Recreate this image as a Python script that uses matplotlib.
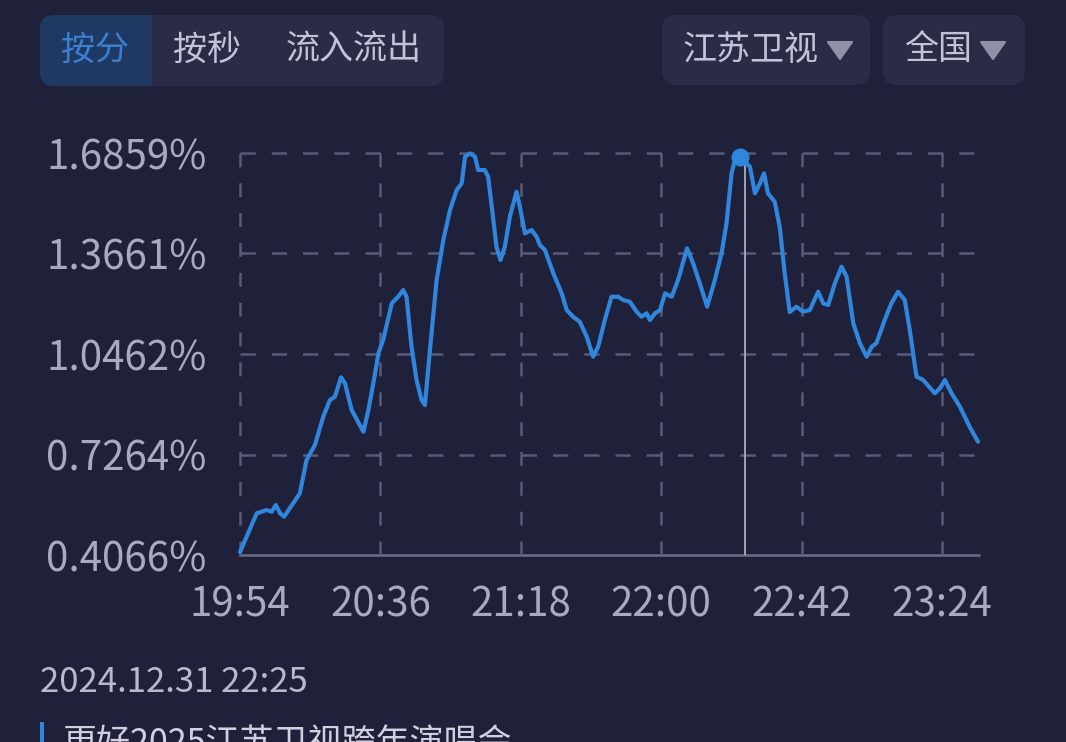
import numpy as np
import matplotlib
matplotlib.use('Agg')
import matplotlib.pyplot as plt
from matplotlib.patches import FancyBboxPatch, Rectangle, Polygon
from matplotlib.transforms import IdentityTransform

plt.rcParams['font.family'] = ['Noto Sans CJK SC', 'DejaVu Sans']
plt.rcParams['lines.scale_dashes'] = False

# ---- data (minutes after 19:54, audience share %) ----
minutes = [0.0, 5.0, 8.0, 9.5, 10.7, 12.0, 13.2, 17.9, 19.9, 22.4, 24.9, 26.9, 28.4,
           30.2, 31.4, 33.4, 36.9, 38.4, 40.4, 41.4, 42.8, 45.4, 47.3, 48.8, 49.8,
           51.3, 52.8, 54.3, 55.3, 56.8, 58.8, 60.8, 62.8, 64.8, 66.3, 67.3, 68.8,
           70.3, 71.2, 73.2, 74.2, 75.3, 76.7, 77.9, 79.2, 80.7, 82.7, 83.7, 85.2,
           87.2, 88.7, 89.7, 91.2, 93.7, 96.2, 97.7, 99.6, 101.6, 103.7, 105.6,
           107.1, 108.6, 109.1, 111.1, 113.1, 114.6, 116.6, 118.6, 120.1, 121.6,
           122.6, 124.1, 125.6, 127.1, 129.1, 131.0, 133.7, 135.5, 137.5, 139.7,
           142.0, 144.0, 145.5, 147.0, 148.5, 150.5, 152.5, 154.0, 155.5, 156.7,
           157.9, 159.9, 161.4, 162.9, 164.4, 166.4, 168.4, 170.4, 172.9, 174.4,
           175.9, 177.9, 179.9, 181.4, 183.4, 185.4, 187.4, 188.9, 190.3, 192.8,
           194.8, 196.8, 198.8, 200.3, 202.3, 204.3, 207.8, 209.3, 210.8, 212.8,
           215.3, 218.2, 220.7]
share = [0.4161, 0.5393, 0.5498, 0.5444, 0.5657, 0.5393, 0.5285, 0.6029, 0.7089,
         0.7566, 0.8467, 0.8998, 0.9103, 0.9720, 0.9530, 0.8680, 0.7989, 0.8680,
         0.9848, 1.0484, 1.0907, 1.2075, 1.2285, 1.2498, 1.2285, 1.0694, 0.9635,
         0.8998, 0.8839, 1.0589, 1.2817, 1.4089, 1.5044, 1.5680, 1.5894, 1.6740,
         1.6848, 1.6740, 1.6317, 1.6317, 1.6104, 1.5149, 1.3876, 1.3453, 1.3876,
         1.4831, 1.5626, 1.5149, 1.4302, 1.4408, 1.4194, 1.3930, 1.3771, 1.3030,
         1.2393, 1.1862, 1.1649, 1.1490, 1.1012, 1.0376, 1.0694, 1.1331, 1.1544,
         1.2285, 1.2285, 1.2180, 1.2126, 1.1808, 1.1649, 1.1757, 1.1544, 1.1757,
         1.1862, 1.2393, 1.2285, 1.2817, 1.3825, 1.3348, 1.2711, 1.1967, 1.2817,
         1.3666, 1.4621, 1.6212, 1.6848, 1.6635, 1.6422, 1.5575, 1.5894, 1.6212,
         1.5575, 1.5308, 1.4513, 1.3030, 1.1798, 1.1967, 1.1808, 1.1862, 1.2444,
         1.2075, 1.2021, 1.2711, 1.3240, 1.2922, 1.1439, 1.0802, 1.0376, 1.0694,
         1.0802, 1.1544, 1.2075, 1.2444, 1.2180, 1.1226, 0.9740, 0.9635, 0.9211,
         0.9370, 0.9635, 0.9211, 0.8785, 0.8149, 0.7671]

y_ticks = [0.4066, 0.7264, 1.0462, 1.3661, 1.6859]
y_tick_labels = ['0.4066%', '0.7264%', '1.0462%', '1.3661%', '1.6859%']
x_ticks = [0, 42, 84, 126, 168, 210]
x_tick_labels = ['19:54', '20:36', '21:18', '22:00', '22:42', '23:24']
cursor_minute = 151
cursor_label = '2024.12.31 22:25'
tabs = ['按分', '按秒', '流入流出']
channel = '江苏卫视'
region = '全国'
program = '更好2025江苏卫视跨年演唱会'

# ---- style ----
W, H = 1066, 742
BG = '#1f2039'
BOX = '#2a2b47'
SEL = '#1f3963'
SEL_TXT = '#3a80d2'
TXT = '#c3c3d8'
AX_TXT = '#a9a9c2'
GRID = '#585a77'
LINE = '#2f86dc'
TRI = '#8f8fa8'

fig = plt.figure(figsize=(W / 100, H / 100), dpi=100)
fig.patch.set_facecolor(BG)


def px(x, y):
    return x / W, 1 - y / H


def rbox(x0, y0, x1, y1, fc, r=14):
    p = FancyBboxPatch((x0 + r, H - y1 + r), (x1 - x0) - 2 * r, (y1 - y0) - 2 * r,
                       boxstyle=f'round,pad={r}', fc=fc, ec='none',
                       transform=IdentityTransform())
    fig.add_artist(p)


def tri(xc):
    pts = [(xc - 12, H - 42), (xc + 12, H - 42), (xc, H - 59)]
    fig.add_artist(Polygon(pts, closed=True, fc=TRI, ec=TRI, lw=1.5, joinstyle='round',
                           transform=IdentityTransform()))


# tab group
rbox(40, 15, 444, 86, BOX)
rbox(40, 15, 152, 86, SEL)
fig.add_artist(Rectangle((125, H - 86), 27, 71, fc=SEL, ec='none',
                         transform=IdentityTransform()))
tab_x = [95, 207, 354]
for i, (t, xc) in enumerate(zip(tabs, tab_x)):
    fig.text(*px(xc, 50), t, ha='center', va='center', fontsize=24.5,
             color=SEL_TXT if i == 0 else TXT)

# dropdowns
rbox(662, 15, 870, 85, BOX)
rbox(883, 15, 1025, 85, BOX)
fig.text(*px(751, 50), channel, ha='center', va='center', fontsize=24.5, color=TXT)
tri(840)
fig.text(*px(938, 50), region, ha='center', va='center', fontsize=24.5, color=TXT)
tri(993)

# ---- chart ----
ax = fig.add_axes([240 / W, 1 - 555 / H, 739 / W, 402 / H])
ax.set_facecolor(BG)
ax.set_xlim(0, 221)
ax.set_ylim(y_ticks[0], y_ticks[-1])
for s in ax.spines.values():
    s.set_visible(False)

for y in y_ticks[1:]:
    ax.axhline(y, color=GRID, lw=1.8, ls=(0, (11, 11.5)), clip_on=False, zorder=1)
ax.axhline(y_ticks[0], color='#6b6d89', lw=1.8, clip_on=False, zorder=1)
for x in x_ticks:
    ax.axvline(x, color=GRID, lw=1.8, ls=(0, (10, 11.5)), clip_on=False, zorder=1)

ax.set_yticks(y_ticks, y_tick_labels)
ax.set_xticks(x_ticks, x_tick_labels)
ax.tick_params(axis='y', length=0, pad=24, labelsize=29, labelcolor=AX_TXT)
ax.tick_params(axis='x', length=0, pad=21, labelsize=29, labelcolor=AX_TXT)

ax.plot(minutes, share, color=LINE, lw=3.0, clip_on=False, zorder=3,
        solid_joinstyle='round', solid_capstyle='round')

ax.axvline(cursor_minute, color='#a2a2ba', lw=1.4, zorder=2)
cv = np.interp(cursor_minute - 1.5, minutes, share)
ax.plot([cursor_minute - 1.5], [cv], 'o', ms=12, color=LINE, clip_on=False, zorder=4)

# ---- footer ----
fig.text(*px(40, 683), cursor_label, ha='left', va='center', fontsize=25, color='#b9b9cd')
fig.add_artist(Rectangle((40, 0), 4, H - 722, fc=LINE, ec='none',
                         transform=IdentityTransform()))
fig.text(*px(62, 726), program, ha='left', va='top', fontsize=24.5, color='#d0d0e0')

fig.savefig('out.png', dpi=100, facecolor=BG)
